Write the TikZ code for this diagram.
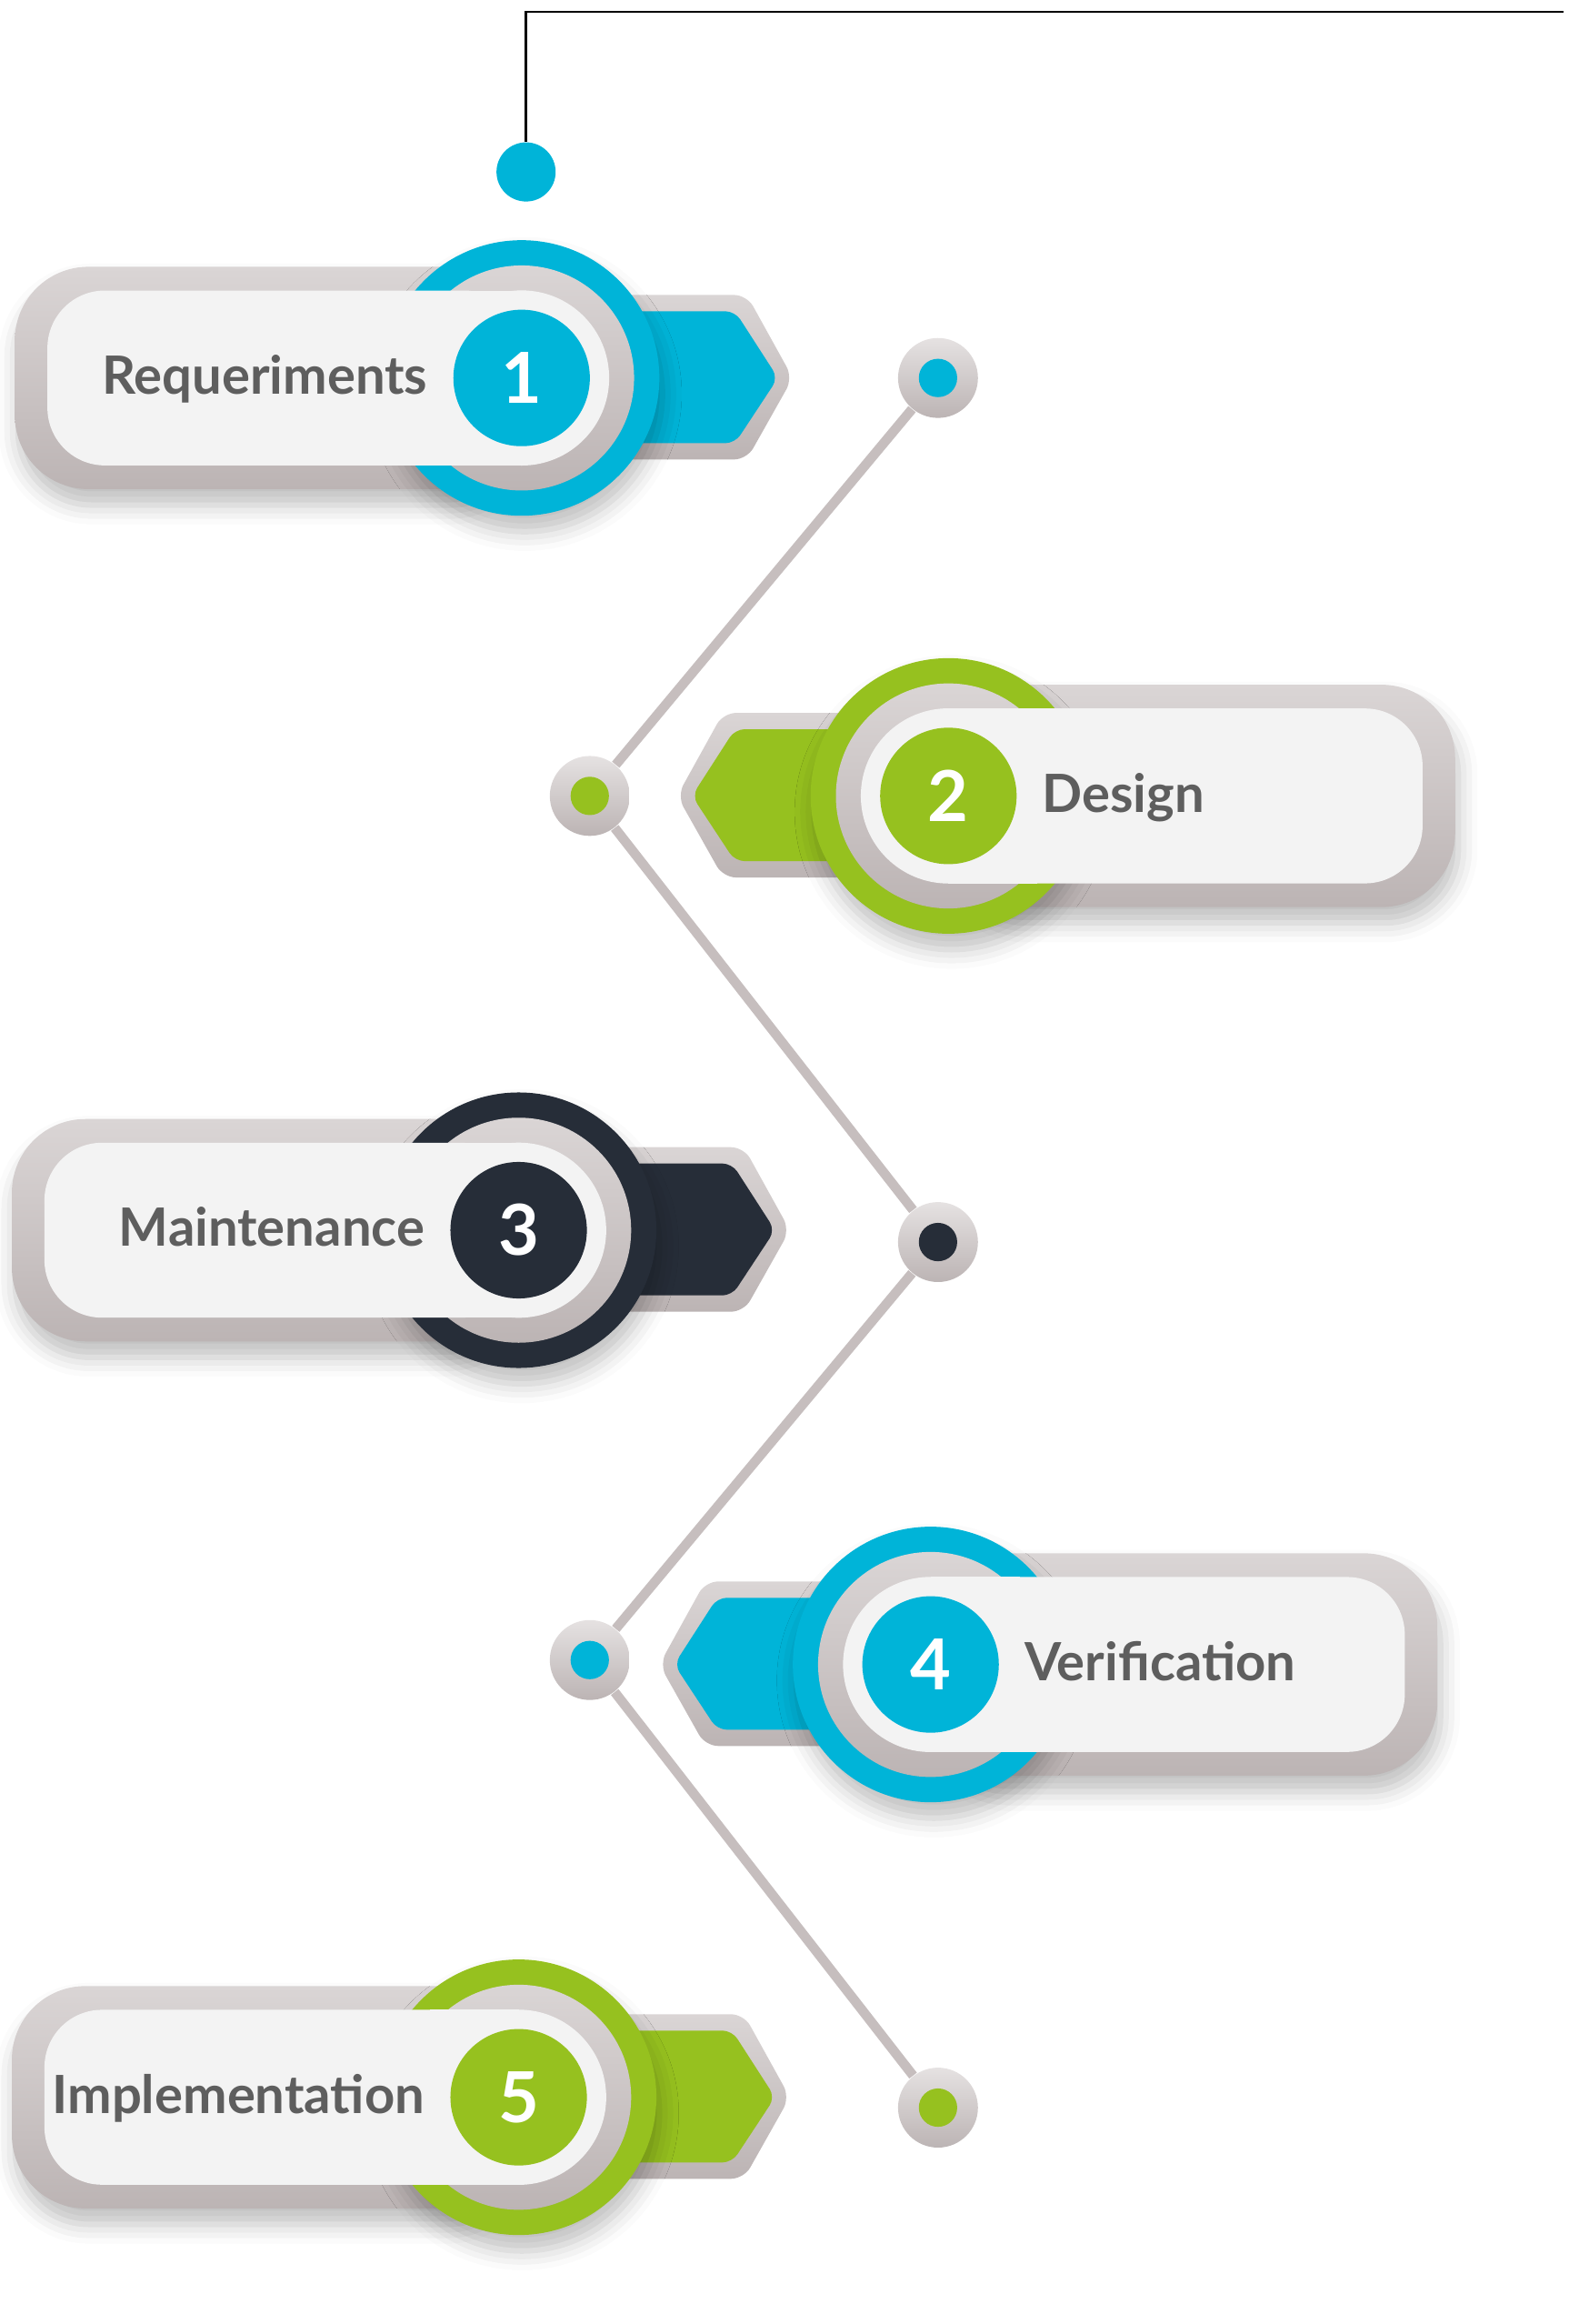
\documentclass[tikz,border=0pt]{standalone}
\usepackage{fontspec}
\setmainfont{Lato}
\usepackage{xcolor}
\usepackage{tikz}
\usetikzlibrary{shadows.blur}
\definecolor{stepblue}{RGB}{0,180,216}
\definecolor{stepgreen}{RGB}{150,193,31}
\definecolor{stepdark}{RGB}{38,45,56}
\definecolor{pilltop}{RGB}{218,213,213}
\definecolor{pillbottom}{RGB}{188,180,180}
\definecolor{pillface}{RGB}{243,243,243}
\definecolor{linkgray}{RGB}{198,190,190}
\definecolor{labelgray}{RGB}{94,94,94}

\begin{document}
\begin{tikzpicture}[
    x=0.0163cm, y=-0.0163cm,
    graypart/.style={top color=pilltop, bottom color=pillbottom},
    facepart/.style={fill=pillface},
    softshadow/.style={blur shadow={shadow xshift=1pt, shadow yshift=-5pt,
                       shadow blur radius=6pt, shadow opacity=25}},
    numdisc/.style={circle, fill=#1, minimum size=42.7pt, inner sep=0pt,
                    text=white, font=\fontsize{22}{24}\selectfont\bfseries},
    steplabel/.style={text=labelgray, inner sep=0pt,
                      font=\fontsize{16.5}{20}\selectfont\bfseries},
    dot/.style={circle, inner sep=0pt, minimum size=25pt,
                top color=pilltop!70!white, bottom color=pillbottom,
                path picture={\fill[#1] (path picture bounding box.center) circle (6pt);}},
    link/.style={draw=linkgray, line width=3pt}
]
\useasboundingbox (0,0) rectangle (1065,1568);

% Start marker
\coordinate (topend) at (1055,8);
\coordinate (bend) at (355,8);
\node[circle, fill=stepblue, minimum size=18.5pt, inner sep=0pt] (start) at (355,116) {};
\draw[line width=0.8pt] (topend) -- (bend) -- (start);

% Steps
\foreach \cx/\cy/\col/\lab/\num/\dir/\side [count=\i] in {
    352/255/stepblue/Requeriments/1/1/east,
    640/537/stepgreen/Design/2/-1/west,
    350/830/stepdark/Maintenance/3/1/east,
    628/1123/stepblue/Verification/4/-1/west,
    350/1415/stepgreen/Implementation/5/1/east}
{
    \begin{scope}[shift={(\cx,\cy)}, xscale=\dir]
        % arrow tab
        \shade[graypart, rounded corners=4pt] (60,-56) -- (152,-56) -- (183,0)
            -- (152,55) -- (60,55) -- cycle;
        \fill[\col, rounded corners=3pt] (60,-45) -- (144,-45) -- (173,0)
            -- (144,44) -- (60,44) -- cycle;
        % outer pill
        \shade[graypart, softshadow, rounded corners=23pt] (0,-75) -- (-342,-75)
            -- (-342,75) -- (0,75) -- cycle;
        % rings
        \fill[\col, softshadow] (0,0) circle (43.1pt);
        \shade[graypart] (0,0) circle (35.2pt);
        % inner pill
        \fill[facepart, rounded corners=18pt] (-320,-59) rectangle (0,59);
        \fill[facepart] (-60,-59) rectangle (0,59);
        \fill[facepart] (0,0) circle (27.4pt);
    \end{scope}
    \node[numdisc=\col] (num\i) at (\cx,\cy) {\num};
    \node[steplabel, anchor=base \side] (lab\i) at ({\cx-\dir*63},{\cy+11}) {\lab};
}

% Timeline dots
\node[dot=stepblue] (d1) at (633,255) {};
\node[dot=stepgreen] (d2) at (398,537) {};
\node[dot=stepdark] (d3) at (633,838) {};
\node[dot=stepblue] (d4) at (398,1120) {};
\node[dot=stepgreen] (d5) at (633,1422) {};
\draw[link] (d1) -- (d2) -- (d3) -- (d4) -- (d5);

\end{tikzpicture}
\end{document}
